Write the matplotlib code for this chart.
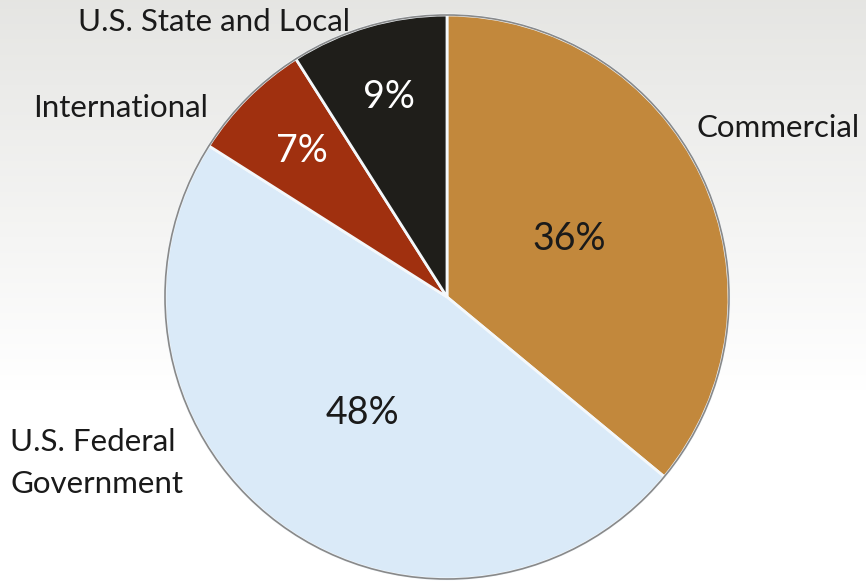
import matplotlib
matplotlib.use("Agg")
import matplotlib.pyplot as plt
import numpy as np
from matplotlib.patches import Circle

categories = ["Commercial", "U.S. Federal\nGovernment", "International", "U.S. State and Local"]
shares = [36, 48, 7, 9]
colors = ["#C2883C", "#DAEAF8", "#A0300F", "#1F1E1A"]
pct_colors = ["#1a1a1a", "#1a1a1a", "white", "white"]
pct_dist = [0.48, 0.51, 0.73, 0.74]

W, H = 866, 585
fig = plt.figure(figsize=(W / 100, H / 100), dpi=100)

# background gradient
bg = fig.add_axes([0, 0, 1, 1])
grad = np.linspace(0, 1, 256).reshape(-1, 1)
top = np.array([0.90, 0.90, 0.89])
bot = np.array([1.0, 1.0, 1.0])
t = np.clip(grad * 1.5, 0, 1)
img = top * (1 - t) + bot * t
bg.imshow(img.reshape(256, 1, 3), aspect="auto", extent=[0, 1, 0, 1])
bg.axis("off")

ax = fig.add_axes([0, 0, 1, 1])
ax.set_xlim(0, W)
ax.set_ylim(0, H)
ax.set_aspect("equal")
ax.axis("off")
ax.patch.set_alpha(0)

cx, cy, r = 447, H - 297, 282
wedges, _ = ax.pie(shares, colors=colors, startangle=90, counterclock=False,
                   center=(cx, cy), radius=r, frame=True,
                   wedgeprops=dict(edgecolor="#f4f8fb", linewidth=2.0))
ax.set_xlim(0, W)
ax.set_ylim(0, H)
ax.axis("off")
ax.add_patch(Circle((cx, cy), r, fill=False, edgecolor="#5a5a5a", linewidth=1.2, alpha=0.7))

fam = ["Lato", "DejaVu Sans"]
for w, s, d, c in zip(wedges, shares, pct_dist, pct_colors):
    ang = np.deg2rad((w.theta1 + w.theta2) / 2)
    ax.text(cx + d * r * np.cos(ang), cy + d * r * np.sin(ang), f"{s}%",
            ha="center", va="center", fontsize=27, color=c, family=fam)

lab_pos = [(697, 128, "left"), (10, 463, "left"), (33, 108, "left"), (78, 22, "left")]
for name, (x, y, ha) in zip(categories, lab_pos):
    ax.text(x, H - y, name, ha=ha, va="center", fontsize=22.5, color="#1a1a1a",
            family=fam, linespacing=1.6)

fig.savefig("out.png", dpi=100)
